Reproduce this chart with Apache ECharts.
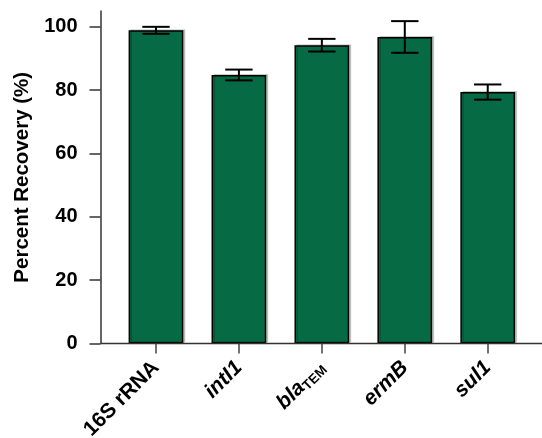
<!DOCTYPE html>
<html>
<head>
<meta charset="utf-8">
<script src="https://cdn.jsdelivr.net/npm/echarts@6/dist/echarts.min.js"></script>
<style>html,body{margin:0;padding:0;background:#fff;}#c{width:542px;height:438px;}</style>
</head>
<body>
<div id="c"></div>
<script>
var categories = ['16S rRNA', 'intI1', 'blaTEM', 'ermB', 'sul1'];
var categoryLabels = ['{n|16S rRNA}', '{i|intI1}', '{i|bla}{s|TEM}', '{i|ermB}', '{i|sul1}'];
var recovery = [98.9, 84.8, 94.2, 96.8, 79.4];
var errors = [1.1, 1.7, 2.0, 5.0, 2.4];
var yTicks = [0, 20, 40, 60, 80, 100];

var font = 'Liberation Sans';
var chart = echarts.init(document.getElementById('c'), null, {renderer: 'canvas'});
var labelMap = {};
categories.forEach(function (c, i) { labelMap[c] = categoryLabels[i]; });

var option = {
  animation: false,
  backgroundColor: '#fff',
  grid: {left: 114.5, right: 12.8, top: 11, bottom: 94.5, containLabel: false, outerBoundsMode: 'none'},
  xAxis: {
    type: 'category',
    data: categories,
    axisLine: {show: false},
    axisTick: {show: true, alignWithLabel: true, length: 10, lineStyle: {color: '#444', width: 1.5}},
    axisLabel: {
      rotate: 45, margin: 21, interval: 0,
      formatter: function (v) { return labelMap[v]; },
      rich: {
        n: {fontFamily: font, fontWeight: 'bold', fontSize: 21, color: '#000'},
        i: {fontFamily: font, fontWeight: 'bold', fontStyle: 'italic', fontSize: 21, color: '#000'},
        s: {fontFamily: font, fontWeight: 'bold', fontSize: 13.5, color: '#000', padding: [10, 0, 0, 0]}
      }
    }
  },
  yAxis: {
    type: 'value', min: 0, max: 105, interval: 20, offset: 14,
    name: 'Percent Recovery (%)', nameLocation: 'middle', nameGap: 67,
    nameTextStyle: {fontFamily: font, fontWeight: 'bold', fontSize: 20.5, color: '#000'},
    axisLine: {show: true, lineStyle: {color: '#333', width: 1.5}},
    axisTick: {show: true, length: 11, customValues: yTicks, lineStyle: {color: '#333', width: 1.5}},
    axisLabel: {customValues: yTicks, margin: 23, fontFamily: font, fontWeight: 'bold', fontSize: 20, color: '#000'},
    splitLine: {show: false}
  },
  series: [{
    type: 'bar',
    data: recovery,
    barWidth: '66%',
    itemStyle: {color: '#066a44', borderColor: '#000', borderWidth: 1.5,
      shadowColor: 'rgba(0,0,0,0.18)', shadowBlur: 0, shadowOffsetX: 2, shadowOffsetY: -1},
    z: 2
  }, {
    type: 'custom',
    z: 3,
    data: recovery.map(function (v, i) { return [i, v - errors[i], v + errors[i]]; }),
    renderItem: function (params, api) {
      var lo = api.coord([api.value(0), api.value(1)]);
      var hi = api.coord([api.value(0), api.value(2)]);
      var bw = api.size([1, 0])[0] * 0.66;
      var hw = bw / 4;
      var st = {stroke: '#000', lineWidth: 2};
      return {type: 'group', children: [
        {type: 'line', shape: {x1: hi[0], y1: hi[1], x2: lo[0], y2: lo[1]}, style: st},
        {type: 'line', shape: {x1: hi[0] - hw, y1: hi[1], x2: hi[0] + hw, y2: hi[1]}, style: st},
        {type: 'line', shape: {x1: lo[0] - hw, y1: lo[1], x2: lo[0] + hw, y2: lo[1]}, style: st}
      ]};
    }
  }]
};
chart.setOption(option);
var y0 = chart.convertToPixel({yAxisIndex: 0}, 0);
chart.setOption({graphic: [{type: 'line', z: 10, shape: {x1: 100.5, y1: y0, x2: 542, y2: y0}, style: {stroke: '#333', lineWidth: 1.5}}]});
</script>
</body>
</html>
